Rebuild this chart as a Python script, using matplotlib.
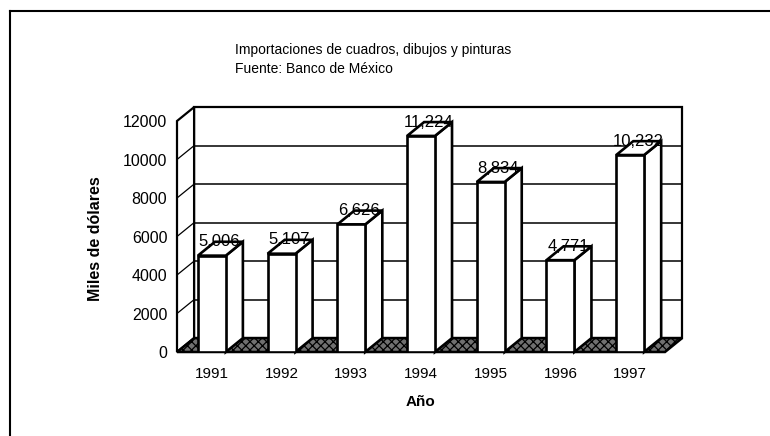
import matplotlib.pyplot as plt
from matplotlib.patches import Polygon
from matplotlib.lines import Line2D

# Datos
years = ['1991', '1992', '1993', '1994', '1995', '1996', '1997']
imports = [5006, 5107, 6626, 11224, 8834, 4771, 10232]
yticks = [0, 2000, 4000, 6000, 8000, 10000, 12000]

title = 'Importaciones de cuadros, dibujos y pinturas\nFuente: Banco de México'
ylabel = 'Miles de dólares'
xlabel = 'Año'

plt.rcParams['font.family'] = ['Liberation Sans', 'DejaVu Sans']
plt.rcParams['hatch.linewidth'] = 0.9

fig = plt.figure(figsize=(7.7, 4.36), dpi=100)
ax = fig.add_axes([177/770, 84/436, 488/770, 231/436])
n = len(years)
ymax = yticks[-1]
ax.set_xlim(-0.5, n - 0.5)
ax.set_ylim(0, ymax)
for s in ax.spines.values():
    s.set_visible(False)

# depth of the fake 3d box (data units)
DX = 0.245
DY = 720
BW = 0.4
LW = 1.9

x0, x1 = -0.5, n - 0.5

# back wall
ax.add_patch(Polygon([(x0+DX, DY), (x1+DX, DY), (x1+DX, ymax+DY), (x0+DX, ymax+DY)],
                     closed=True, fc='white', ec='black', lw=1.6, zorder=1, clip_on=False))
for v in yticks[1:-1]:
    ax.plot([x0+DX, x1+DX], [v+DY, v+DY], color='black', lw=1.1, zorder=2, clip_on=False)

# left wall with diagonal ticks
ax.add_patch(Polygon([(x0, 0), (x0+DX, DY), (x0+DX, ymax+DY), (x0, ymax)],
                     closed=True, fc='white', ec='black', lw=1.6, zorder=2, clip_on=False))
for v in yticks[1:-1]:
    ax.plot([x0, x0+DX], [v, v+DY], color='black', lw=0.9, zorder=2, clip_on=False)

# floor
ax.add_patch(Polygon([(x0, 0), (x1, 0), (x1+DX, DY), (x0+DX, DY)],
                     closed=True, fc='#707070', ec='black', hatch='xxxx', lw=1.8,
                     zorder=3, clip_on=False))

# bars: front faces via ax.bar, side and top faces as polygons
xs = list(range(n))
ax.bar(xs, imports, width=BW, color='white', edgecolor='black', lw=LW, zorder=5)
for x, v in zip(xs, imports):
    l, r = x - BW/2, x + BW/2
    ax.add_patch(Polygon([(r, 0), (r+DX, DY), (r+DX, v+DY), (r, v)], closed=True,
                         fc='white', ec='black', lw=LW, zorder=4, clip_on=False))
    ax.add_patch(Polygon([(l, v), (r, v), (r+DX, v+DY), (l+DX, v+DY)], closed=True,
                         fc='white', ec='black', lw=LW, zorder=4, clip_on=False))
    ax.text(x + DX*0.45, v + DY*1.0, f'{v:,}', ha='center', va='center',
            fontsize=12, zorder=6)

ax.set_yticks(yticks)
ax.set_xticks(xs, years)
ax.tick_params(axis='y', length=0, pad=7, labelsize=11.5)
ax.tick_params(axis='x', length=0, pad=11, labelsize=11)

ax.set_ylabel(ylabel, fontsize=11.5, fontweight='bold')
ax.yaxis.set_label_coords((103-177)/488, 0.49)
ax.set_xlabel(xlabel, fontsize=11, fontweight='bold')
ax.xaxis.set_label_coords((420-177)/488, -0.185)

fig.text(235/770, 1 - 43/436, title, ha='left', va='top', fontsize=10,
         linespacing=1.45)

# outer frame (left and top edges only are visible)
fig.add_artist(Line2D([10/770, 10/770], [0, 1 - 11/436], color='black', lw=1.5))
fig.add_artist(Line2D([10/770, 1], [1 - 11/436, 1 - 11/436], color='black', lw=1.5))

fig.savefig('out.png', dpi=100)
